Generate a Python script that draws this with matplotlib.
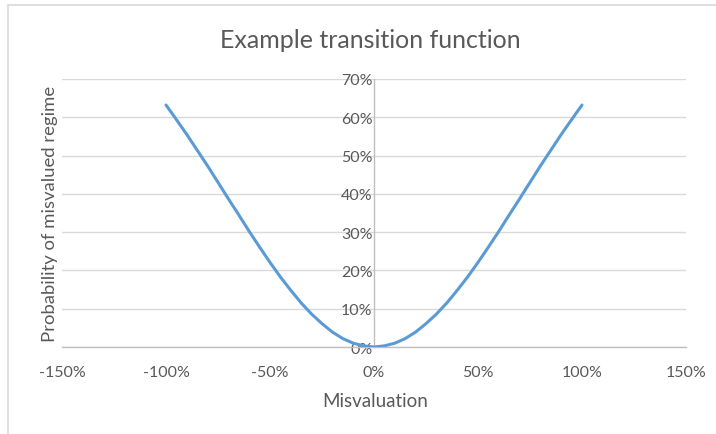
import numpy as np
import matplotlib
matplotlib.use("Agg")
from matplotlib import pyplot as plt
from matplotlib.patches import Rectangle
from matplotlib.ticker import FuncFormatter, MultipleLocator

# misvaluation (x) and probability (y)
misvaluation = [-1.00, -0.95, -0.90, -0.85, -0.80, -0.75, -0.70, -0.65, -0.60, -0.55,
                -0.50, -0.45, -0.40, -0.35, -0.30, -0.25, -0.20, -0.15, -0.10, -0.05,
                0.00, 0.05, 0.10, 0.15, 0.20, 0.25, 0.30, 0.35, 0.40, 0.45,
                0.50, 0.55, 0.60, 0.65, 0.70, 0.75, 0.80, 0.85, 0.90, 0.95, 1.00]
probability = [0.632, 0.594, 0.555, 0.514, 0.473, 0.430, 0.387, 0.345, 0.302, 0.261,
               0.221, 0.183, 0.148, 0.115, 0.086, 0.061, 0.039, 0.022, 0.010, 0.003,
               0.000, 0.003, 0.010, 0.022, 0.039, 0.061, 0.086, 0.115, 0.148, 0.183,
               0.221, 0.261, 0.302, 0.345, 0.387, 0.430, 0.473, 0.514, 0.555, 0.594, 0.632]

title = "Example transition function"
xlab = "Misvaluation"
ylab = "Probability of misvalued regime"

plt.rcParams['font.family'] = ['Lato', 'DejaVu Sans']
txtcol = '#595959'

fig = plt.figure(figsize=(7.16, 4.35), dpi=100)
# chart area border
fig.patches.append(Rectangle((8/716, -0.05), 1.2, 1 - 6/435 + 0.05, transform=fig.transFigure,
                             fill=False, edgecolor='#d9d9d9', linewidth=1.2))

ax = fig.add_axes([62/716, 1 - 348/435, (686 - 62)/716, (348 - 80)/435])
ax.plot(misvaluation, probability, color='#5b9bd5', linewidth=2.2, solid_capstyle='round', zorder=3)

ax.set_xlim(-1.5, 1.5)
ax.set_ylim(0, 0.7)
ax.xaxis.set_major_locator(MultipleLocator(0.5))
ax.yaxis.set_major_locator(MultipleLocator(0.1))
pct = FuncFormatter(lambda v, p: "{:.0f}%".format(v * 100))
ax.xaxis.set_major_formatter(pct)
ax.yaxis.set_major_formatter(pct)

ax.grid(axis='y', color='#d9d9d9', linewidth=1.0, zorder=0)
ax.set_axisbelow(True)
for s in ['top', 'right']:
    ax.spines[s].set_visible(False)
ax.spines['left'].set_position(('data', 0))
ax.spines['left'].set_color('#bfbfbf')
ax.spines['bottom'].set_color('#bfbfbf')
ax.spines['left'].set_linewidth(1.0)
ax.spines['bottom'].set_linewidth(1.0)
ax.tick_params(length=0, labelsize=11.5, colors=txtcol)
ax.tick_params(axis='x', pad=13)
ax.tick_params(axis='y', pad=1)

fig.text(370/716, 1 - 40/435, title, ha='center', va='center', fontsize=18, color=txtcol)
fig.text(375/716, 1 - 402/435, xlab, ha='center', va='center', fontsize=13.5, color=txtcol)
fig.text(50/716, 1 - 214/435, ylab, ha='center', va='center', rotation=90, fontsize=13.3, color=txtcol)

fig.savefig("out.png", dpi=100)
